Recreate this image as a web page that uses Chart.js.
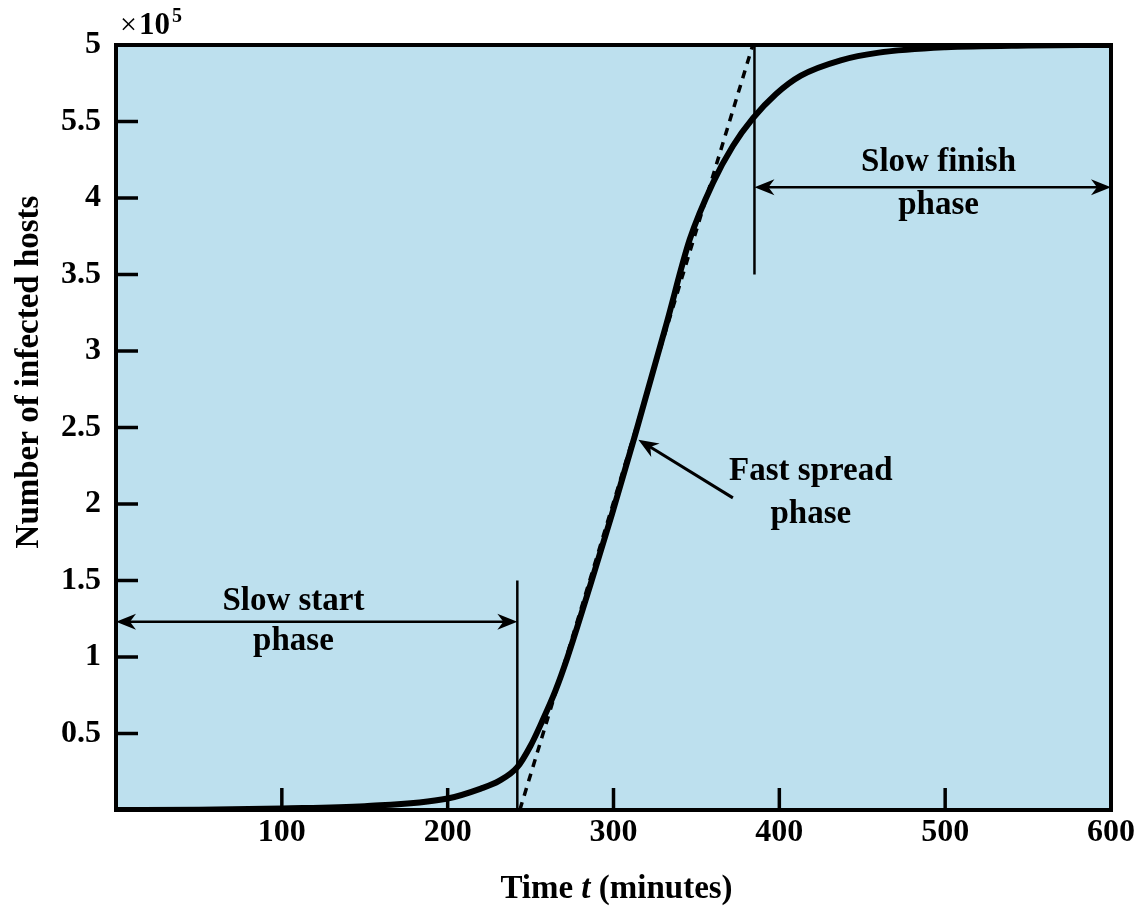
<!DOCTYPE html>
<html>
<head>
<meta charset="utf-8">
<script src="https://cdn.jsdelivr.net/npm/chart.js@4.4.1/dist/chart.umd.min.js"></script>
<style>
  html, body { margin: 0; padding: 0; background: #fff; }
  #wrap { width: 1141px; height: 909px; }
</style>
</head>
<body>
<div id="wrap"><canvas id="chart"></canvas></div>
<script>
// infected hosts (x10^5) over time
const timeMin = [0, 50, 100, 150, 200, 220, 231, 242, 250, 257, 265, 272, 286, 299, 313, 332, 346, 360, 372, 384, 398, 413, 437, 460, 500, 550, 600];
const hosts = [0, 0.002, 0.01, 0.025, 0.075, 0.14, 0.19, 0.28, 0.42, 0.58, 0.78, 0.99, 1.47, 1.93, 2.45, 3.18, 3.73, 4.10, 4.34, 4.52, 4.68, 4.80, 4.90, 4.95, 4.985, 4.997, 5.0];

// dotted straight line through the fast phase
const tangentT = [243.5, 384];
const tangentV = [0, 5];

// tick values and labels (the figure really prints 5.5 at 4.5)
const xTickVals = [0, 100, 200, 300, 400, 500, 600];
const xTickLabels = ['', '100', '200', '300', '400', '500', '600'];
const yTickVals = [0, 0.5, 1, 1.5, 2, 2.5, 3, 3.5, 4, 4.5, 5];
const yTickLabels = ['', '0.5', '1', '1.5', '2', '2.5', '3', '3.5', '4', '5.5', '5'];

const FONT = '"Liberation Serif", "DejaVu Serif", serif';
const BG = '#bde0ee';

// phase markers, in data units
const phaseLines = [
    { t: 242, from: 0, to: 1.5 },
    { t: 385, from: 3.5, to: 5 }
];
const spanArrows = [
    { from: 0, to: 242, v: 1.23 },
    { from: 385, to: 600, v: 4.07 }
];
const labels = [
    { t: 107, v: 1.36, text: 'Slow start' },
    { t: 107, v: 1.10, text: 'phase' },
    { t: 496, v: 4.23, text: 'Slow finish' },
    { t: 496, v: 3.95, text: 'phase' },
    { t: 419, v: 2.21, text: 'Fast spread' },
    { t: 419, v: 1.93, text: 'phase' }
];
const pointer = { t1: 372, v1: 2.04, t2: 315, v2: 2.42 };

function arrowHead(ctx, x1, y1, x2, y2, len, half) {
    const a = Math.atan2(y2 - y1, x2 - x1);
    ctx.beginPath();
    ctx.moveTo(x2, y2);
    ctx.lineTo(x2 - len * Math.cos(a) + half * Math.sin(a), y2 - len * Math.sin(a) - half * Math.cos(a));
    ctx.lineTo(x2 - len * 0.7 * Math.cos(a), y2 - len * 0.7 * Math.sin(a));
    ctx.lineTo(x2 - len * Math.cos(a) - half * Math.sin(a), y2 - len * Math.sin(a) + half * Math.cos(a));
    ctx.closePath();
    ctx.fill();
}

const decor = {
    id: 'decor',
    beforeDraw(chart) {
        const { ctx, chartArea: a } = chart;
        ctx.save();
        ctx.fillStyle = BG;
        ctx.fillRect(a.left, a.top, a.right - a.left, a.bottom - a.top);
        ctx.restore();
    },
    beforeDatasetsDraw(chart) {
        const { ctx } = chart;
        const xs = chart.scales.x, ys = chart.scales.y;
        ctx.save();
        ctx.strokeStyle = '#000';
        ctx.fillStyle = '#000';
        ctx.lineWidth = 2.5;
        phaseLines.forEach(p => {
            const x = xs.getPixelForValue(p.t);
            ctx.beginPath();
            ctx.moveTo(x, ys.getPixelForValue(p.from));
            ctx.lineTo(x, ys.getPixelForValue(p.to));
            ctx.stroke();
        });
        spanArrows.forEach(s => {
            const x1 = xs.getPixelForValue(s.from), x2 = xs.getPixelForValue(s.to);
            const y = ys.getPixelForValue(s.v);
            ctx.beginPath();
            ctx.moveTo(x1 + 8, y);
            ctx.lineTo(x2 - 8, y);
            ctx.stroke();
            arrowHead(ctx, x2, y, x1, y, 20, 8);
            arrowHead(ctx, x1, y, x2, y, 20, 8);
        });
        ctx.font = 'bold 33px ' + FONT;
        ctx.textAlign = 'center';
        ctx.textBaseline = 'middle';
        labels.forEach(l => {
            ctx.fillText(l.text, xs.getPixelForValue(l.t), ys.getPixelForValue(l.v));
        });
        const px1 = xs.getPixelForValue(pointer.t1), py1 = ys.getPixelForValue(pointer.v1);
        const px2 = xs.getPixelForValue(pointer.t2), py2 = ys.getPixelForValue(pointer.v2);
        ctx.lineWidth = 3;
        ctx.beginPath();
        ctx.moveTo(px1, py1);
        ctx.lineTo(px2 + (px1 - px2) * 0.1, py2 + (py1 - py2) * 0.1);
        ctx.stroke();
        arrowHead(ctx, px1, py1, px2, py2, 20, 8);
        ctx.restore();
    },
    afterDraw(chart) {
        const { ctx, chartArea: a } = chart;
        const xs = chart.scales.x, ys = chart.scales.y;
        ctx.save();
        ctx.strokeStyle = '#000';
        // inward tick marks
        ctx.lineWidth = 3.5;
        xTickVals.slice(1, -1).forEach(v => {
            const x = xs.getPixelForValue(v);
            ctx.beginPath();
            ctx.moveTo(x, a.bottom);
            ctx.lineTo(x, a.bottom - 22);
            ctx.stroke();
        });
        yTickVals.slice(1, -1).forEach(v => {
            const y = ys.getPixelForValue(v);
            ctx.beginPath();
            ctx.moveTo(a.left, y);
            ctx.lineTo(a.left + 22, y);
            ctx.stroke();
        });
        // frame
        ctx.lineWidth = 4;
        ctx.strokeRect(a.left, a.top, a.right - a.left, a.bottom - a.top);

        // axis titles
        ctx.fillStyle = '#000';
        ctx.textBaseline = 'middle';
        const tx = (a.left + a.right) / 2 + 3;
        const part1 = 'Time ', part2 = 't', part3 = ' (minutes)';
        ctx.font = 'bold 33px ' + FONT;
        const w1 = ctx.measureText(part1).width, w3 = ctx.measureText(part3).width;
        ctx.font = 'bold italic 33px ' + FONT;
        const w2 = ctx.measureText(part2).width;
        const sx = tx - (w1 + w2 + w3) / 2;
        ctx.textAlign = 'left';
        ctx.font = 'bold 33px ' + FONT;
        ctx.fillText(part1, sx, 889);
        ctx.font = 'bold italic 33px ' + FONT;
        ctx.fillText(part2, sx + w1, 889);
        ctx.font = 'bold 33px ' + FONT;
        ctx.fillText(part3, sx + w1 + w2, 889);

        ctx.save();
        ctx.translate(29, 372);
        ctx.rotate(-Math.PI / 2);
        ctx.textAlign = 'center';
        ctx.fillText('Number of infected hosts', 0, 0);
        ctx.restore();

        // exponent marker
        ctx.textAlign = 'left';
        ctx.textBaseline = 'alphabetic';
        ctx.font = '30px ' + FONT;
        ctx.fillText('\u00d7', 120, 34);
        ctx.font = 'bold 31px ' + FONT;
        ctx.fillText('10', 139, 34);
        ctx.font = 'bold 20px ' + FONT;
        ctx.fillText('5', 172, 22);
        ctx.restore();
    }
};

const tickFont = { family: FONT, size: 32, weight: 'bold' };

new Chart(document.getElementById('chart'), {
    type: 'line',
    data: {
        datasets: [
            {
                label: 'Infected hosts',
                data: timeMin.map((t, i) => ({ x: t, y: hosts[i] })),
                borderColor: '#000',
                borderWidth: 6,
                pointRadius: 0,
                cubicInterpolationMode: 'monotone',
                fill: false
            },
            {
                label: 'Fast phase trend',
                data: tangentT.map((t, i) => ({ x: t, y: tangentV[i] })),
                borderColor: '#000',
                borderWidth: 3.5,
                borderDash: [8, 7],
                pointRadius: 0,
                fill: false
            }
        ]
    },
    options: {
        responsive: true,
        maintainAspectRatio: false,
        animation: false,
        layout: { padding: { left: 0, top: 45, right: 30, bottom: 0 } },
        plugins: {
            legend: { display: false },
            tooltip: { enabled: false }
        },
        scales: {
            x: {
                type: 'linear',
                min: 0,
                max: 600,
                border: { display: false },
                grid: { display: false, drawTicks: false },
                afterBuildTicks: s => { s.ticks = xTickVals.map(v => ({ value: v })); },
                afterFit: s => { s.height = 99; },
                ticks: {
                    autoSkip: false,
                    maxRotation: 0,
                    padding: 4,
                    color: '#000',
                    font: tickFont,
                    callback: (v, i) => xTickLabels[i]
                }
            },
            y: {
                type: 'linear',
                min: 0,
                max: 5,
                border: { display: false },
                grid: { display: false, drawTicks: false },
                afterBuildTicks: s => { s.ticks = yTickVals.map(v => ({ value: v })); },
                afterFit: s => { s.width = 116; },
                ticks: {
                    autoSkip: false,
                    padding: 15,
                    color: '#000',
                    font: tickFont,
                    callback: (v, i) => yTickLabels[i]
                }
            }
        }
    },
    plugins: [decor]
});
</script>
</body>
</html>
